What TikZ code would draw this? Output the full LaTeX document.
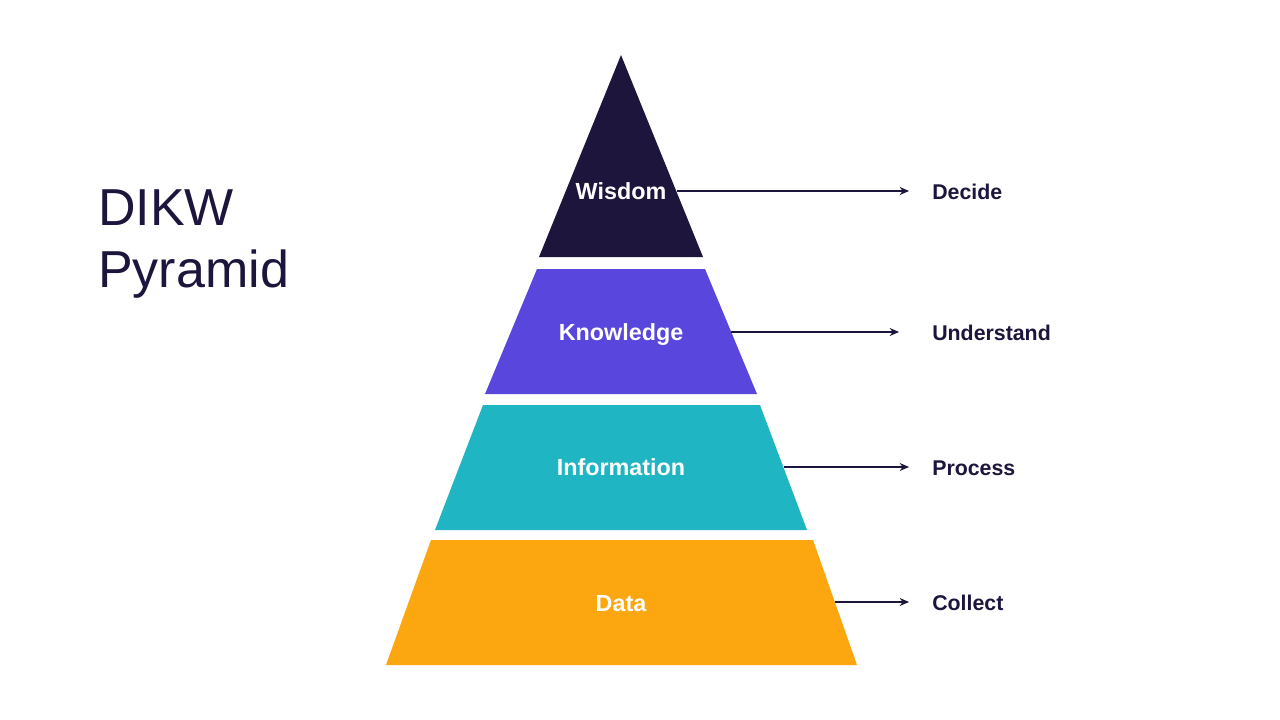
\documentclass[tikz,border=0pt]{standalone}
\usepackage{fontspec}
\setmainfont{Liberation Sans}
\usetikzlibrary{arrows.meta}
\definecolor{navy}{HTML}{1E153D}
\definecolor{kcol}{HTML}{5846DD}
\definecolor{icol}{HTML}{1FB5C2}
\definecolor{dcol}{HTML}{FCA70F}
\tikzset{
  lvl/.style={text=white,font=\fontsize{17.5}{20}\selectfont\bfseries,inner sep=0pt,anchor=base},
  act/.style={text=navy,font=\fontsize{16}{19}\selectfont\bfseries,anchor=base west,inner sep=0pt},
  conn/.style={draw=navy,line width=1.1pt,-{Stealth[length=7pt,width=6pt]}}
}
\begin{document}
\begin{tikzpicture}[x=0.75pt,y=-0.75pt]
\useasboundingbox[fill=white] (0,0) rectangle (1280,720);
% bands
\fill[navy]  (621,55) -- (703,257) -- (539,257) -- cycle;
\fill[kcol]  (537,269) -- (705,269) -- (757,394) -- (485,394) -- cycle;
\fill[icol]  (483,405) -- (760,405) -- (807,530) -- (435,530) -- cycle;
\fill[dcol]  (431,540) -- (813,540) -- (857,665) -- (386,665) -- cycle;
% title
\node[text=navy,font=\fontsize{39}{46.5}\selectfont,align=left,anchor=north west,inner sep=0pt] (title) at (98,189) {DIKW\\Pyramid};
% level labels
\node[lvl] (w) at (621,200) {Wisdom};
\node[lvl] (k) at (621,340) {Knowledge};
\node[lvl] (i) at (621,475) {Information};
\node[lvl] (d) at (621,611) {Data};
% action labels
\node[act] (dec) at (932,200) {Decide};
\node[act] (und) at (932,340) {Understand};
\node[act] (pro) at (932,475) {Process};
\node[act] (col) at (932,610) {Collect};
% connector anchors
\coordinate (ws) at (677,191);
\coordinate (we) at (909,191);
\coordinate (ks) at (731,332);
\coordinate (ke) at (899,332);
\coordinate (is) at (784,467);
\coordinate (ie) at (909,467);
\coordinate (ds) at (835,602);
\coordinate (de) at (909,602);
\draw[conn] (ws) -- (we);
\draw[conn] (ks) -- (ke);
\draw[conn] (is) -- (ie);
\draw[conn] (ds) -- (de);
\end{tikzpicture}
\end{document}
